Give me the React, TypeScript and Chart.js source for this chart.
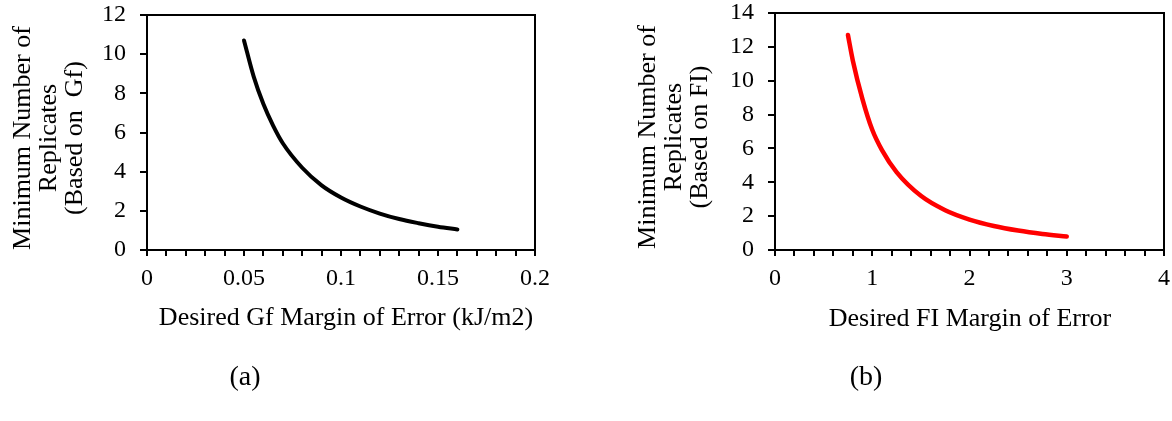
import React, { useEffect, useRef } from "react";
import { Chart, registerables } from "chart.js";

Chart.register(...registerables);

const FONT = "'Liberation Serif', 'Times New Roman', serif";

// Panel (a): Gf
const gfMargin = [0.05, 0.055, 0.06, 0.065, 0.07, 0.08, 0.09, 0.1, 0.11, 0.12, 0.13, 0.14, 0.15, 0.16];
const gfReplicates = [10.7, 8.85, 7.45, 6.35, 5.45, 4.2, 3.3, 2.68, 2.22, 1.86, 1.58, 1.37, 1.19, 1.05];
const gfXMajor = [0, 0.05, 0.1, 0.15, 0.2];
const gfYTitle = ["Minimum Number of", "Replicates", "(Based on  Gf)"];
const gfXTitle = "Desired Gf Margin of Error (kJ/m2)";

// Panel (b): FI
const fiMargin = [0.75, 0.8, 0.9, 1.0, 1.1, 1.25, 1.5, 1.75, 2.0, 2.25, 2.5, 2.75, 3.0];
const fiReplicates = [12.7, 11.2, 8.9, 7.1, 5.9, 4.6, 3.2, 2.35, 1.8, 1.42, 1.15, 0.95, 0.8];
const fiXMajor = [0, 1, 2, 3, 4];
const fiYTitle = ["Minimum Number of", "Replicates", "(Based on FI)"];
const fiXTitle = "Desired FI Margin of Error";

const panelLabels = ["(a)", "(b)"];

type TextItem = { text: string; x: number; y: number; rot?: number; size: number };

const framePlugin = {
  id: "frameTexts",
  beforeDatasetsDraw(chart: any) {
    const { ctx, chartArea: a } = chart;
    ctx.save();
    ctx.strokeStyle = "#000";
    ctx.lineWidth = 2;
    ctx.strokeRect(Math.round(a.left), Math.round(a.top), Math.round(a.right) - Math.round(a.left), Math.round(a.bottom) - Math.round(a.top));
    ctx.restore();
  },
  afterDraw(chart: any, _args: any, opts: any) {
    const { ctx } = chart;
    const texts: TextItem[] = opts.texts || [];
    ctx.save();
    ctx.fillStyle = "#000";
    ctx.textAlign = "center";
    ctx.textBaseline = "middle";
    for (const t of texts) {
      ctx.save();
      ctx.font = `${t.size}px ${FONT}`;
      ctx.translate(t.x, t.y);
      if (t.rot) ctx.rotate(t.rot);
      ctx.fillText(t.text, 0, 0);
      ctx.restore();
    }
    ctx.restore();
  },
};

type PanelProps = {
  left: number;
  width: number;
  height: number;
  area: { left: number; top: number; right: number; bottom: number };
  xs: number[];
  ys: number[];
  color: string;
  lineWidth: number;
  xMax: number;
  xStep: number;
  xMajor: number[];
  yMax: number;
  texts: TextItem[];
};

function Panel(p: PanelProps) {
  const ref = useRef<HTMLCanvasElement | null>(null);
  useEffect(() => {
    if (!ref.current) return;
    const points = p.xs.map((x, i) => ({ x, y: p.ys[i] }));
    const chart = new Chart(ref.current, {
      type: "line",
      data: {
        datasets: [
          {
            data: points,
            borderColor: p.color,
            borderWidth: p.lineWidth,
            pointRadius: 0,
            cubicInterpolationMode: "monotone",
            borderCapStyle: "round",
            fill: false,
          },
        ],
      },
      options: {
        animation: false,
        responsive: false,
        devicePixelRatio: 1,
        layout: {
          padding: { left: 0, top: p.area.top, right: p.width - p.area.right, bottom: 0 },
        },
        plugins: {
          legend: { display: false },
          tooltip: { enabled: false },
          frameTexts: { texts: p.texts },
        } as any,
        scales: {
          x: {
            type: "linear",
            min: 0,
            max: p.xMax,
            grid: { drawOnChartArea: false, drawTicks: true, tickLength: 6, color: "#000", lineWidth: 2 },
            border: { display: true, color: "#000", width: 2 },
            ticks: {
              stepSize: p.xStep,
              autoSkip: false,
              maxRotation: 0,
              padding: 8,
              color: "#000",
              font: { family: FONT, size: 24 },
              callback: (v: any) => {
                const n = Number(v);
                const m = p.xMajor.find((t) => Math.abs(t - n) < p.xStep / 10);
                return m === undefined ? "" : String(m);
              },
            },
            afterFit: (s: any) => {
              s.height = p.height - p.area.bottom;
              s.paddingLeft = 0;
              s.paddingRight = 0;
            },
          },
          y: {
            type: "linear",
            min: 0,
            max: p.yMax,
            grid: { drawOnChartArea: false, drawTicks: true, tickLength: 7, color: "#000", lineWidth: 2 },
            border: { display: true, color: "#000", width: 2 },
            ticks: {
              stepSize: 2,
              padding: 14,
              color: "#000",
              font: { family: FONT, size: 24 },
            },
            afterFit: (s: any) => {
              s.width = p.area.left;
              s.paddingTop = 0;
              s.paddingBottom = 0;
            },
          },
        },
      },
      plugins: [framePlugin as any],
    });
    return () => chart.destroy();
  }, []);
  return (
    <canvas
      ref={ref}
      width={p.width}
      height={p.height}
      style={{ position: "absolute", left: p.left, top: 0, width: p.width, height: p.height }}
    />
  );
}

export default function App() {
  const H = 421;
  const R = -Math.PI / 2;
  const textsA: TextItem[] = [
    { text: gfYTitle[0], x: 23.5, y: 138, rot: R, size: 26 },
    { text: gfYTitle[1], x: 49.5, y: 138, rot: R, size: 26 },
    { text: gfYTitle[2], x: 75.5, y: 138, rot: R, size: 26 },
    { text: gfXTitle, x: 346, y: 318, size: 26 },
    { text: panelLabels[0], x: 245, y: 378, size: 28 },
  ];
  const textsB: TextItem[] = [
    { text: fiYTitle[0], x: 68.5, y: 137, rot: R, size: 26 },
    { text: fiYTitle[1], x: 94.5, y: 137, rot: R, size: 26 },
    { text: fiYTitle[2], x: 120.5, y: 137, rot: R, size: 26 },
    { text: fiXTitle, x: 390, y: 319, size: 26 },
    { text: panelLabels[1], x: 286, y: 378, size: 28 },
  ];
  return (
    <div style={{ position: "absolute", left: 0, top: 0, width: 1172, height: H, background: "#fff" }}>
      <Panel
        left={0}
        width={580}
        height={H}
        area={{ left: 147, top: 15, right: 535, bottom: 250 }}
        xs={gfMargin}
        ys={gfReplicates}
        color="#000000"
        lineWidth={4}
        xMax={0.2}
        xStep={0.01}
        xMajor={gfXMajor}
        yMax={12}
        texts={textsA}
      />
      <Panel
        left={580}
        width={592}
        height={H}
        area={{ left: 195, top: 13, right: 584, bottom: 250 }}
        xs={fiMargin}
        ys={fiReplicates}
        color="#FF0000"
        lineWidth={4.5}
        xMax={4}
        xStep={0.2}
        xMajor={fiXMajor}
        yMax={14}
        texts={textsB}
      />
    </div>
  );
}
